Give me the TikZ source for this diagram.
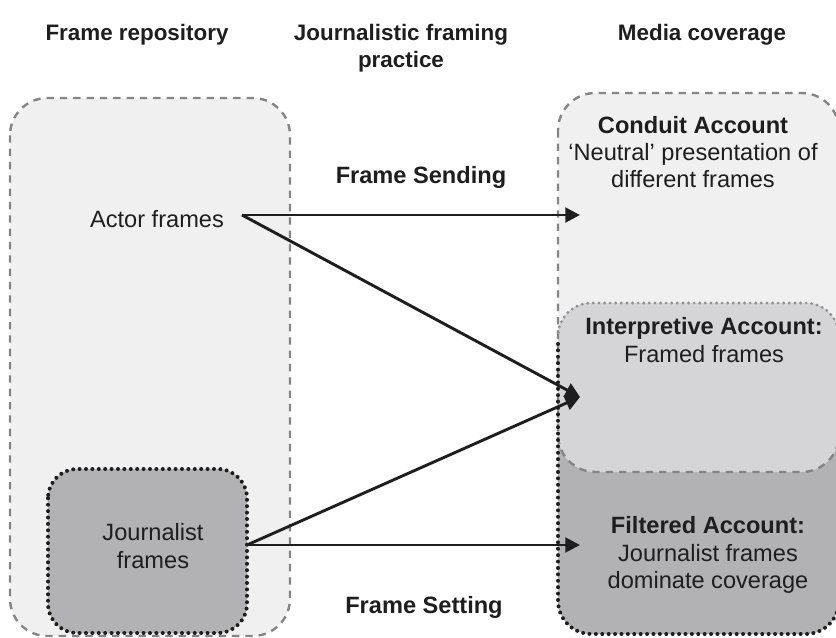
\documentclass[tikz,border=0pt]{standalone}
\usepackage{fontspec}
\setmainfont{Liberation Sans}
\usetikzlibrary{arrows.meta}

\definecolor{paleg}{HTML}{F0F0F0}
\definecolor{darkg}{HTML}{B2B2B4}
\definecolor{midg}{HTML}{D5D5D7}
\definecolor{dashg}{HTML}{858585}
\definecolor{ink}{HTML}{1E1E1E}

\begin{document}
\begin{tikzpicture}[x=0.75pt,y=-0.75pt,
  every node/.style={font=\fontsize{17.7}{20.5}\selectfont, text=ink, align=center, inner sep=0pt},
  hdr/.style={font=\fontsize{16.8}{20.5}\selectfont\bfseries},
  bold/.style={font=\fontsize{17.7}{20.5}\selectfont\bfseries},
  dashedbox/.style={draw=dashg, line width=1.8pt, dash pattern=on 5.5pt off 4.5pt},
  dotbox/.style={draw=ink, line width=3pt, line cap=round, dash pattern=on 0pt off 4.8pt},
  graydots/.style={draw=dashg!90, line width=2.4pt, line cap=round, dash pattern=on 0pt off 4.2pt},
  arr/.style={draw=ink, line width=2.2pt, -{Triangle[length=11pt,width=11pt]}}
]
\useasboundingbox (0,0) rectangle (836,638);

% column headings
\node[hdr] (h1) at (137,35) {Frame repository};
\node[hdr] (h2) at (401,48) {Journalistic framing\\practice};
\node[hdr] (h3) at (702,35) {Media coverage};

% frame repository
\draw[dashedbox, fill=paleg, rounded corners=28pt] (10,98) rectangle (290,636);
\draw[dotbox, fill=darkg, rounded corners=22pt] (48,469) rectangle (247,633);

% media coverage: conduit area, filtered area and their overlap
\def\conduitpath{(558,93) rectangle (839,472)}
\def\filteredpath{(558,303) rectangle (839,634)}
\fill[paleg, rounded corners=28pt] \conduitpath;
\fill[darkg, rounded corners=25pt] \filteredpath;
\begin{scope}
  \clip[rounded corners=28pt] \conduitpath;
  \fill[midg, rounded corners=25pt] \filteredpath;
\end{scope}
\draw[dashedbox, rounded corners=28pt] \conduitpath;
\draw[graydots, rounded corners=25pt] (558,338) -- (558,303) -- (839,303) -- (839,338);
\draw[dotbox, rounded corners=25pt] (839,338) -- (839,634) -- (558,634) -- (558,338);

% labels
\node (actor) at (157,219) {Actor frames};
\node (journ) at (153,546) {Journalist\\frames};
\node (conduit) at (693,152) {\textbf{Conduit Account}\\[0pt]`Neutral' presentation of\\different frames};
\node (interp) at (704,340) {\textbf{Interpretive Account:}\\Framed frames};
\node (filtered) at (708,555) {\textbf{Filtered Account:}\\Journalist frames\\dominate coverage};
\node[bold] (sending) at (421,177) {Frame Sending};
\node[bold] (setting) at (424,607) {Frame Setting};

% connector end points
\coordinate (actorOut) at (242,215);
\coordinate (journOut) at (247,545);
\coordinate (conduitIn) at (580,215);
\coordinate (interpIn) at (580,397);
\coordinate (filteredIn) at (580,545);

\draw[arr] (actorOut) -- (conduitIn);
\draw[arr] (actorOut) -- (interpIn);
\draw[arr] (journOut) -- (interpIn);
\draw[arr] (journOut) -- (filteredIn);
\end{tikzpicture}
\end{document}
